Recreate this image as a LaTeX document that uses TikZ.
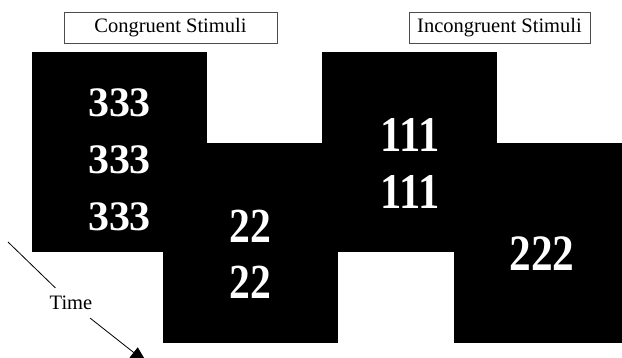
\documentclass[tikz,border=0pt]{standalone}
\usepackage{fontspec}
\setmainfont{Liberation Serif}
\newfontfamily\narrowserif[FakeStretch=0.85]{Liberation Serif}
\usetikzlibrary{arrows.meta}
\tikzset{scr/.style={rectangle,fill=black,minimum width=175pt,minimum height=200pt,inner sep=0pt},num/.style={text=white,align=center,inner sep=0pt},lab/.style={draw=black!70,rectangle,minimum height=31pt,inner sep=0pt},arr/.style={-{Triangle[length=17pt,width=13pt]},line width=0.8pt}}

\begin{document}
\begin{tikzpicture}[x=1pt,y=1pt,font=\fontsize{20.5}{24}\selectfont]
\useasboundingbox (0,0) rectangle (622,-357);
\foreach\n/\x/\y in{s1/119.5/-152,s2/250.5/-243,s3/409.5/-152,s4/541.5/-243}{\node[scr](\n)at(\x,\y){};}
\node[num,font=\fontsize{42}{57}\selectfont\bfseries](n1)at([yshift=-8pt]s1){333\\333\\333};
\node[num,font=\narrowserif\fontsize{49}{56}\selectfont\bfseries](n2)at([yshift=-11pt]s2){22\\22};
\node[num,font=\narrowserif\fontsize{50}{57}\selectfont\bfseries](n3)at([xshift=1pt,yshift=-11pt]s3){111\\111};
\node[num,font=\narrowserif\fontsize{51}{57}\selectfont\bfseries](n4)at([xshift=0.5pt,yshift=-11pt]s4){222};
\node[lab,minimum width=213pt](cong)at(170.5,-27.5){Congruent Stimuli};
\node[lab,minimum width=181pt](incong)at(499.5,-27.5){Incongruent Stimuli};
\coordinate(ts)at(8,-242);\coordinate(te)at(147,-363);
\node[inner sep=8pt](time)at(71,-303){Time};
\draw[line width=0.8pt](ts)--(time);
\draw[arr](time)--(te);
\end{tikzpicture}
\end{document}
